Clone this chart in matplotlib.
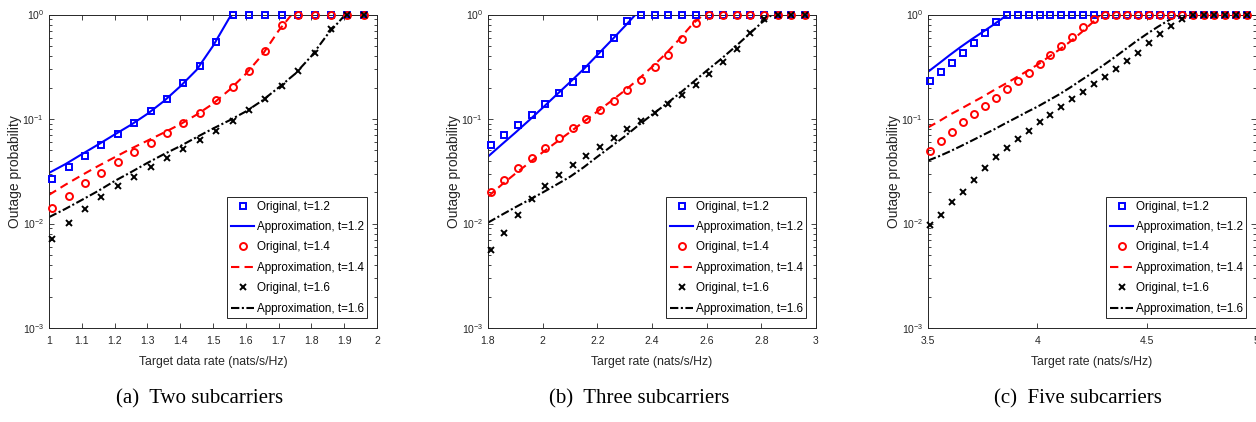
"""Outage probability vs target rate for two, three and five subcarriers."""

import matplotlib
matplotlib.use("Agg")
import matplotlib.pyplot as plt
import numpy as np
from matplotlib.ticker import LogLocator, FixedLocator, NullFormatter

plt.rcParams["font.family"] = ["Liberation Sans", "DejaVu Sans"]
plt.rcParams["mathtext.fontset"] = "custom"
plt.rcParams["mathtext.rm"] = "Liberation Sans"
plt.rcParams["mathtext.it"] = "Liberation Sans:italic"

labels = ["Original, t=1.2", "Approximation, t=1.2",
          "Original, t=1.4", "Approximation, t=1.4",
          "Original, t=1.6", "Approximation, t=1.6"]

# ---- (a) two subcarriers ----
xm_a = [1.01, 1.06, 1.11, 1.16, 1.21, 1.26, 1.31, 1.36, 1.41, 1.46,
        1.51, 1.56, 1.61, 1.66, 1.71, 1.76, 1.81, 1.86, 1.91, 1.96]
orig12_a = [0.0267, 0.0348, 0.0446, 0.056, 0.072, 0.0916, 0.118, 0.157, 0.222, 0.323,
            0.544, 1, 1, 1, 1, 1, 1, 1, 1, 1]
orig14_a = [0.0140, 0.0185, 0.0243, 0.0307, 0.0385, 0.048, 0.0586, 0.073, 0.091, 0.115,
            0.152, 0.204, 0.29, 0.45, 0.785, 1, 1, 1, 1, 1]
orig16_a = [0.00703, 0.0101, 0.0138, 0.0179, 0.0226, 0.0281, 0.0345, 0.042, 0.0517, 0.063,
            0.0774, 0.0964, 0.122, 0.157, 0.207, 0.287, 0.43, 0.72, 1, 1]
xl12_a = [1.0, 1.05, 1.1, 1.15, 1.2, 1.25, 1.3, 1.35, 1.4, 1.45, 1.5, 1.55, 1.56, 2.0]
appr12_a = [0.0305, 0.037, 0.046, 0.057, 0.071, 0.088, 0.112, 0.148, 0.205, 0.295,
            0.50, 0.93, 1.0, 1.0]
xl14_a = [1.0, 1.05, 1.1, 1.15, 1.2, 1.25, 1.3, 1.35, 1.4, 1.45, 1.5, 1.55, 1.6, 1.65,
          1.7, 1.74, 2.0]
appr14_a = [0.0188, 0.0235, 0.029, 0.0355, 0.043, 0.052, 0.062, 0.074, 0.089, 0.11,
            0.14, 0.19, 0.27, 0.41, 0.70, 1.0, 1.0]
xl16_a = [1.0, 1.05, 1.1, 1.15, 1.2, 1.25, 1.3, 1.35, 1.4, 1.45, 1.5, 1.55, 1.6, 1.65,
          1.7, 1.75, 1.8, 1.85, 1.9, 1.92, 2.0]
appr16_a = [0.0115, 0.0138, 0.0168, 0.0205, 0.0255, 0.031, 0.038, 0.046, 0.055, 0.067,
            0.081, 0.097, 0.118, 0.15, 0.20, 0.27, 0.40, 0.65, 0.97, 1.0, 1.0]

# ---- (b) three subcarriers ----
xm_b = [1.81, 1.86, 1.91, 1.96, 2.01, 2.06, 2.11, 2.16, 2.21, 2.26, 2.31, 2.36,
        2.41, 2.46, 2.51, 2.56, 2.61, 2.66, 2.71, 2.76, 2.81, 2.86, 2.91, 2.96]
orig12_b = [0.0565, 0.0703, 0.0877, 0.109, 0.139, 0.176, 0.227, 0.298, 0.415, 0.59,
            0.87, 1, 1, 1, 1, 1, 1, 1, 1, 1, 1, 1, 1, 1]
orig14_b = [0.0198, 0.0261, 0.0338, 0.0424, 0.0532, 0.0653, 0.0814, 0.1, 0.122, 0.149,
            0.188, 0.236, 0.312, 0.412, 0.581, 0.832, 1, 1, 1, 1, 1, 1, 1, 1]
orig16_b = [0.0056, 0.00814, 0.0121, 0.0172, 0.0231, 0.0292, 0.0364, 0.0447, 0.0545,
            0.0658, 0.0796, 0.0957, 0.115, 0.140, 0.171, 0.213, 0.271, 0.353, 0.47,
            0.658, 0.90, 1, 1, 1]
xl12_b = [1.8, 1.85, 1.9, 1.95, 2.0, 2.05, 2.1, 2.15, 2.2, 2.25, 2.3, 2.34, 3.0]
appr12_b = [0.0437, 0.057, 0.074, 0.097, 0.128, 0.17, 0.225, 0.30, 0.41, 0.56, 0.77,
            1.0, 1.0]
xl14_b = [1.8, 1.85, 1.9, 1.95, 2.0, 2.05, 2.1, 2.15, 2.2, 2.25, 2.3, 2.35, 2.4, 2.45,
          2.5, 2.55, 2.59, 3.0]
appr14_b = [0.0181, 0.0235, 0.030, 0.038, 0.048, 0.060, 0.075, 0.094, 0.118, 0.148,
            0.187, 0.24, 0.315, 0.42, 0.58, 0.82, 1.0, 1.0]
xl16_b = [1.8, 1.85, 1.9, 1.95, 2.0, 2.05, 2.1, 2.15, 2.2, 2.25, 2.3, 2.35, 2.4, 2.45,
          2.5, 2.55, 2.6, 2.65, 2.7, 2.75, 2.8, 2.84, 3.0]
appr16_b = [0.0102, 0.0121, 0.0143, 0.0168, 0.0198, 0.0235, 0.028, 0.0345, 0.0435,
            0.0545, 0.068, 0.087, 0.11, 0.138, 0.175, 0.225, 0.29, 0.37, 0.48, 0.63,
            0.83, 1.0, 1.0]

# ---- (c) five subcarriers ----
xm_c = [3.51, 3.56, 3.61, 3.66, 3.71, 3.76, 3.81, 3.86, 3.91, 3.96, 4.01, 4.06, 4.11,
        4.16, 4.21, 4.26, 4.31, 4.36, 4.41, 4.46, 4.51, 4.56, 4.61, 4.66, 4.71, 4.76,
        4.81, 4.86, 4.91, 4.96]
orig12_c = [0.231, 0.283, 0.345, 0.43, 0.536, 0.668, 0.839, 0.98] + [1] * 22
orig14_c = [0.0498, 0.062, 0.0757, 0.093, 0.112, 0.133, 0.16, 0.192, 0.231, 0.277,
            0.333, 0.406, 0.498, 0.612, 0.751, 0.90, 1] + [1] * 13
orig16_c = [0.00957, 0.0121, 0.0159, 0.0202, 0.0261, 0.034, 0.0434, 0.0532, 0.0649,
            0.0774, 0.093, 0.109, 0.131, 0.154, 0.182, 0.214, 0.254, 0.30, 0.358, 0.43,
            0.528, 0.644, 0.774, 0.90, 1] + [1] * 5
xl12_c = [3.5, 3.55, 3.6, 3.65, 3.7, 3.75, 3.8, 3.85, 3.87, 5.0]
appr12_c = [0.283, 0.34, 0.41, 0.49, 0.58, 0.68, 0.80, 0.95, 1.0, 1.0]
xl14_c = [3.5, 3.55, 3.6, 3.65, 3.7, 3.75, 3.8, 3.85, 3.9, 3.95, 4.0, 4.05, 4.1, 4.15,
          4.2, 4.25, 4.29, 5.0]
appr14_c = [0.083, 0.095, 0.11, 0.125, 0.143, 0.163, 0.188, 0.215, 0.247, 0.285, 0.33,
            0.39, 0.46, 0.55, 0.67, 0.83, 1.0, 1.0]
xl16_c = [3.5, 3.55, 3.6, 3.65, 3.7, 3.75, 3.8, 3.85, 3.9, 3.95, 4.0, 4.05, 4.1, 4.15,
          4.2, 4.25, 4.3, 4.35, 4.4, 4.45, 4.5, 4.55, 4.6, 4.65, 5.0]
appr16_c = [0.040, 0.044, 0.049, 0.055, 0.062, 0.070, 0.079, 0.09, 0.102, 0.116, 0.131,
            0.15, 0.172, 0.20, 0.235, 0.275, 0.325, 0.385, 0.46, 0.55, 0.65, 0.76, 0.88,
            1.0, 1.0]

panels = [
    dict(xm=xm_a, orig=(orig12_a, orig14_a, orig16_a),
         lines=((xl12_a, appr12_a), (xl14_a, appr14_a), (xl16_a, appr16_a)),
         xlim=(1, 2), xticks=[1, 1.1, 1.2, 1.3, 1.4, 1.5, 1.6, 1.7, 1.8, 1.9, 2],
         xticklabels=["1", "1.1", "1.2", "1.3", "1.4", "1.5", "1.6", "1.7", "1.8", "1.9", "2"],
         xlabel="Target data rate (nats/s/Hz)", caption="(a)  Two subcarriers",
         left=49, cap_x=200),
    dict(xm=xm_b, orig=(orig12_b, orig14_b, orig16_b),
         lines=((xl12_b, appr12_b), (xl14_b, appr14_b), (xl16_b, appr16_b)),
         xlim=(1.8, 3), xticks=[1.8, 2, 2.2, 2.4, 2.6, 2.8, 3],
         xticklabels=["1.8", "2", "2.2", "2.4", "2.6", "2.8", "3"],
         xlabel="Target rate (nats/s/Hz)", caption="(b)  Three subcarriers",
         left=488, cap_x=639),
    dict(xm=xm_c, orig=(orig12_c, orig14_c, orig16_c),
         lines=((xl12_c, appr12_c), (xl14_c, appr14_c), (xl16_c, appr16_c)),
         xlim=(3.5, 5), xticks=[3.5, 4, 4.5, 5],
         xticklabels=["3.5", "4", "4.5", "5"],
         xlabel="Target rate (nats/s/Hz)", caption="(c)  Five subcarriers",
         left=928, cap_x=1078),
]

W, H = 1256, 422
fig = plt.figure(figsize=(W / 100, H / 100), dpi=100)
axis_gray = "#262626"

mstyles = [dict(marker="s", color="#0000ff", ms=4.5),
           dict(marker="o", color="#ff0000", ms=5),
           dict(marker="x", color="black", ms=4.5)]
lstyles = [dict(color="#0000ff", ls="-"),
           dict(color="#ff0000", ls=(0, (4, 2.5))),
           dict(color="black", ls=(0, (4, 1.2, 1, 1.2)))]

for p in panels:
    ax = fig.add_axes([p["left"] / W, 1 - 328 / H, 328 / W, 313.5 / H])
    for k in range(3):
        ms = mstyles[k]
        ax.plot(p["xm"], p["orig"][k], ls="none", marker=ms["marker"], ms=ms["ms"],
                mfc="none", mec=ms["color"], mew=1.4, clip_on=False, zorder=3,
                label=labels[2 * k])
        ls = lstyles[k]
        lx, ly = p["lines"][k]
        ax.plot(lx, ly, color=ls["color"], ls=ls["ls"], lw=1.5, zorder=2,
                label=labels[2 * k + 1])
    ax.set_yscale("log")
    ax.set_ylim(1e-3, 1)
    ax.set_xlim(*p["xlim"])
    ax.yaxis.set_major_locator(FixedLocator([1e-3, 1e-2, 1e-1, 1]))
    ax.yaxis.set_minor_locator(LogLocator(base=10, subs=np.arange(2, 10)))
    ax.yaxis.set_minor_formatter(NullFormatter())
    ax.set_xticks(p["xticks"])
    ax.set_xticklabels(p["xticklabels"])
    ax.tick_params(which="both", direction="in", top=True, right=True,
                   colors=axis_gray, labelsize=7.5, width=0.6)
    ax.tick_params(which="major", length=3.5)
    ax.tick_params(which="minor", length=2)
    ax.tick_params(axis="x", pad=6)
    for s in ax.spines.values():
        s.set_color(axis_gray)
        s.set_linewidth(0.7)
    ax.set_xlabel(p["xlabel"], fontsize=8.8, color=axis_gray, labelpad=7)
    ax.set_ylabel("Outage probability", fontsize=10, color=axis_gray, labelpad=0)
    leg = ax.legend(loc="lower right", fontsize=8.4, frameon=True, fancybox=False,
                    edgecolor=axis_gray, framealpha=1, borderpad=0.3,
                    labelspacing=0.72, handlelength=2.0, handletextpad=0.2,
                    borderaxespad=0.85)
    leg.get_frame().set_linewidth(0.7)
    fig.text(p["cap_x"] / W, 1 - 399 / H, p["caption"], ha="center", va="center",
             fontsize=15, family="Liberation Serif")

fig.savefig("out.png", dpi=100)
